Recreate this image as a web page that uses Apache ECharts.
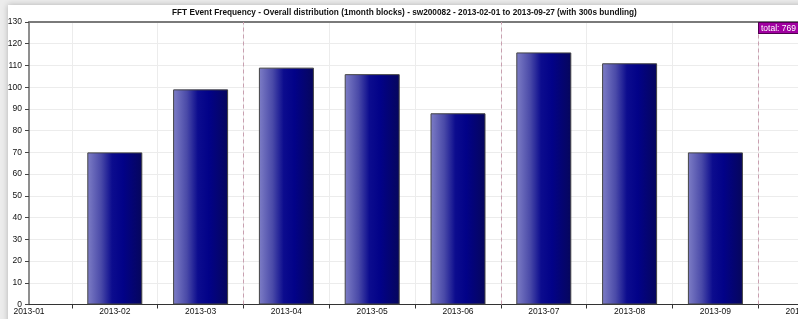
<!DOCTYPE html>
<html>
<head>
<meta charset="utf-8">
<script src="https://cdn.jsdelivr.net/npm/echarts@6/dist/echarts.min.js"></script>
<style>
  html, body { margin: 0; padding: 0; background: #ececec; overflow: hidden; }
  /* 画布比窗口宽，右侧被窗口裁掉（与原图一致） */
  #chart { width: 830px; height: 319px; }
</style>
</head>
<body>
<div id="chart"></div>
<script>
// months shown as bars (x unit = one month, 1 = 2013-02-01)
var categories = ["2013-02", "2013-03", "2013-04", "2013-05", "2013-06", "2013-07", "2013-08", "2013-09"];
var counts = [70, 99, 109, 106, 88, 116, 111, 70];
// labels sit at the middle of each month, incl. the half-visible ends
var axisLabels = ["2013-01", "2013-02", "2013-03", "2013-04", "2013-05", "2013-06", "2013-07", "2013-08", "2013-09", "2013-10"];
var monthStarts = [1, 2, 3, 4, 5, 6, 7, 8, 9];   // 2013-02-01 .. 2013-10-01
var quarterStarts = [3, 6, 9];                   // 2013-04-01, 2013-07-01, 2013-10-01

var FONT = "Liberation Sans";
var PX_PER_MONTH = 85.8;
var X_MIN = 0.5, X_MAX = 9.8;

var total = 0;
for (var i = 0; i < counts.length; i++) { total += counts[i]; }

var barData = [];
for (var i = 0; i < categories.length; i++) {
    barData.push([i + 1.5, counts[i]]);
}
var labelValues = [];
for (var i = 0; i < axisLabels.length; i++) { labelValues.push(i + 0.5); }

var chart = echarts.init(document.getElementById("chart"), null, { renderer: "canvas" });

var gridLeft = 29;
var gridWidth = (X_MAX - X_MIN) * PX_PER_MONTH;

var option = {
    backgroundColor: "#ececec",
    animation: false,
    title: {
        text: "FFT Event Frequency - Overall distribution (1month blocks) - sw200082 - 2013-02-01 to 2013-09-27 (with 300s bundling)",
        left: 167,
        top: 4,
        textStyle: { fontFamily: FONT, fontSize: 8.25, fontWeight: "bold", color: "#111" }
    },
    graphic: [
        {//白色面板 + 阴影
            type: "rect", z: -10, silent: true,
            shape: { x: 8, y: 5, width: 840, height: 330 },
            style: { fill: "#fff", shadowBlur: 6, shadowColor: "rgba(0,0,0,0.25)" }
        },
        {//右上角合计
            type: "text", z: 100,
            left: 758, top: 22,
            style: {
                text: "total: " + total,
                fill: "#fff",
                font: "8.5px " + FONT,
                backgroundColor: "#a000a0",
                borderColor: "#500050", borderWidth: 1,
                padding: [1, 2, 0, 2]
            }
        }
    ],
    grid: { left: gridLeft, top: 22, width: gridWidth, bottom: 14.5, containLabel: false },
    xAxis: [{
        type: "value",
        min: X_MIN,
        max: X_MAX,
        axisLine: { lineStyle: { color: "#333", width: 1 } },
        axisTick: { customValues: monthStarts, length: 4, lineStyle: { color: "#333" } },
        axisLabel: {
            customValues: labelValues,
            margin: 3,
            fontFamily: FONT, fontSize: 8.5, color: "#111",
            formatter: function (v) { return axisLabels[Math.round(v - 0.5)]; }
        },
        splitLine: { show: true, lineStyle: { color: "#ececec", width: 1 } }
    }, {
        // 顶部边框
        type: "value", position: "top",
        min: X_MIN, max: X_MAX,
        axisLine: { show: true, lineStyle: { color: "#7a7a7a", width: 2 } },
        axisTick: { show: false }, axisLabel: { show: false }, splitLine: { show: false }
    }],
    yAxis: {
        type: "value",
        min: 0, max: 130, interval: 10,
        axisLine: { show: true, lineStyle: { color: "#6a6a6a", width: 1.5 } },
        axisTick: { show: true, length: 4, lineStyle: { color: "#444" } },
        axisLabel: { margin: 7, fontFamily: FONT, fontSize: 8.5, color: "#111" },
        splitLine: { show: true, lineStyle: { color: "#ececec", width: 1 } }
    },
    series: [{
        type: "bar",
        data: barData,
        barWidth: 55,
        itemStyle: {
            color: new echarts.graphic.LinearGradient(0, 0, 1, 0, [
                { offset: 0, color: "#7e7ec6" },
                { offset: 0.25, color: "#4a4aa8" },
                { offset: 0.45, color: "#0c0c8e" },
                { offset: 0.65, color: "#020288" },
                { offset: 1, color: "#06065c" }
            ]),
            borderColor: "#444",
            borderWidth: 1
        },
        markLine: {
            silent: true,
            symbol: "none",
            label: { show: false },
            lineStyle: { type: [4, 3], color: "#c9a0b0", width: 1 },
            data: quarterStarts.map(function (q) { return { xAxis: q }; })
        }
    }]
};
chart.setOption(option);
</script>
</body>
</html>
